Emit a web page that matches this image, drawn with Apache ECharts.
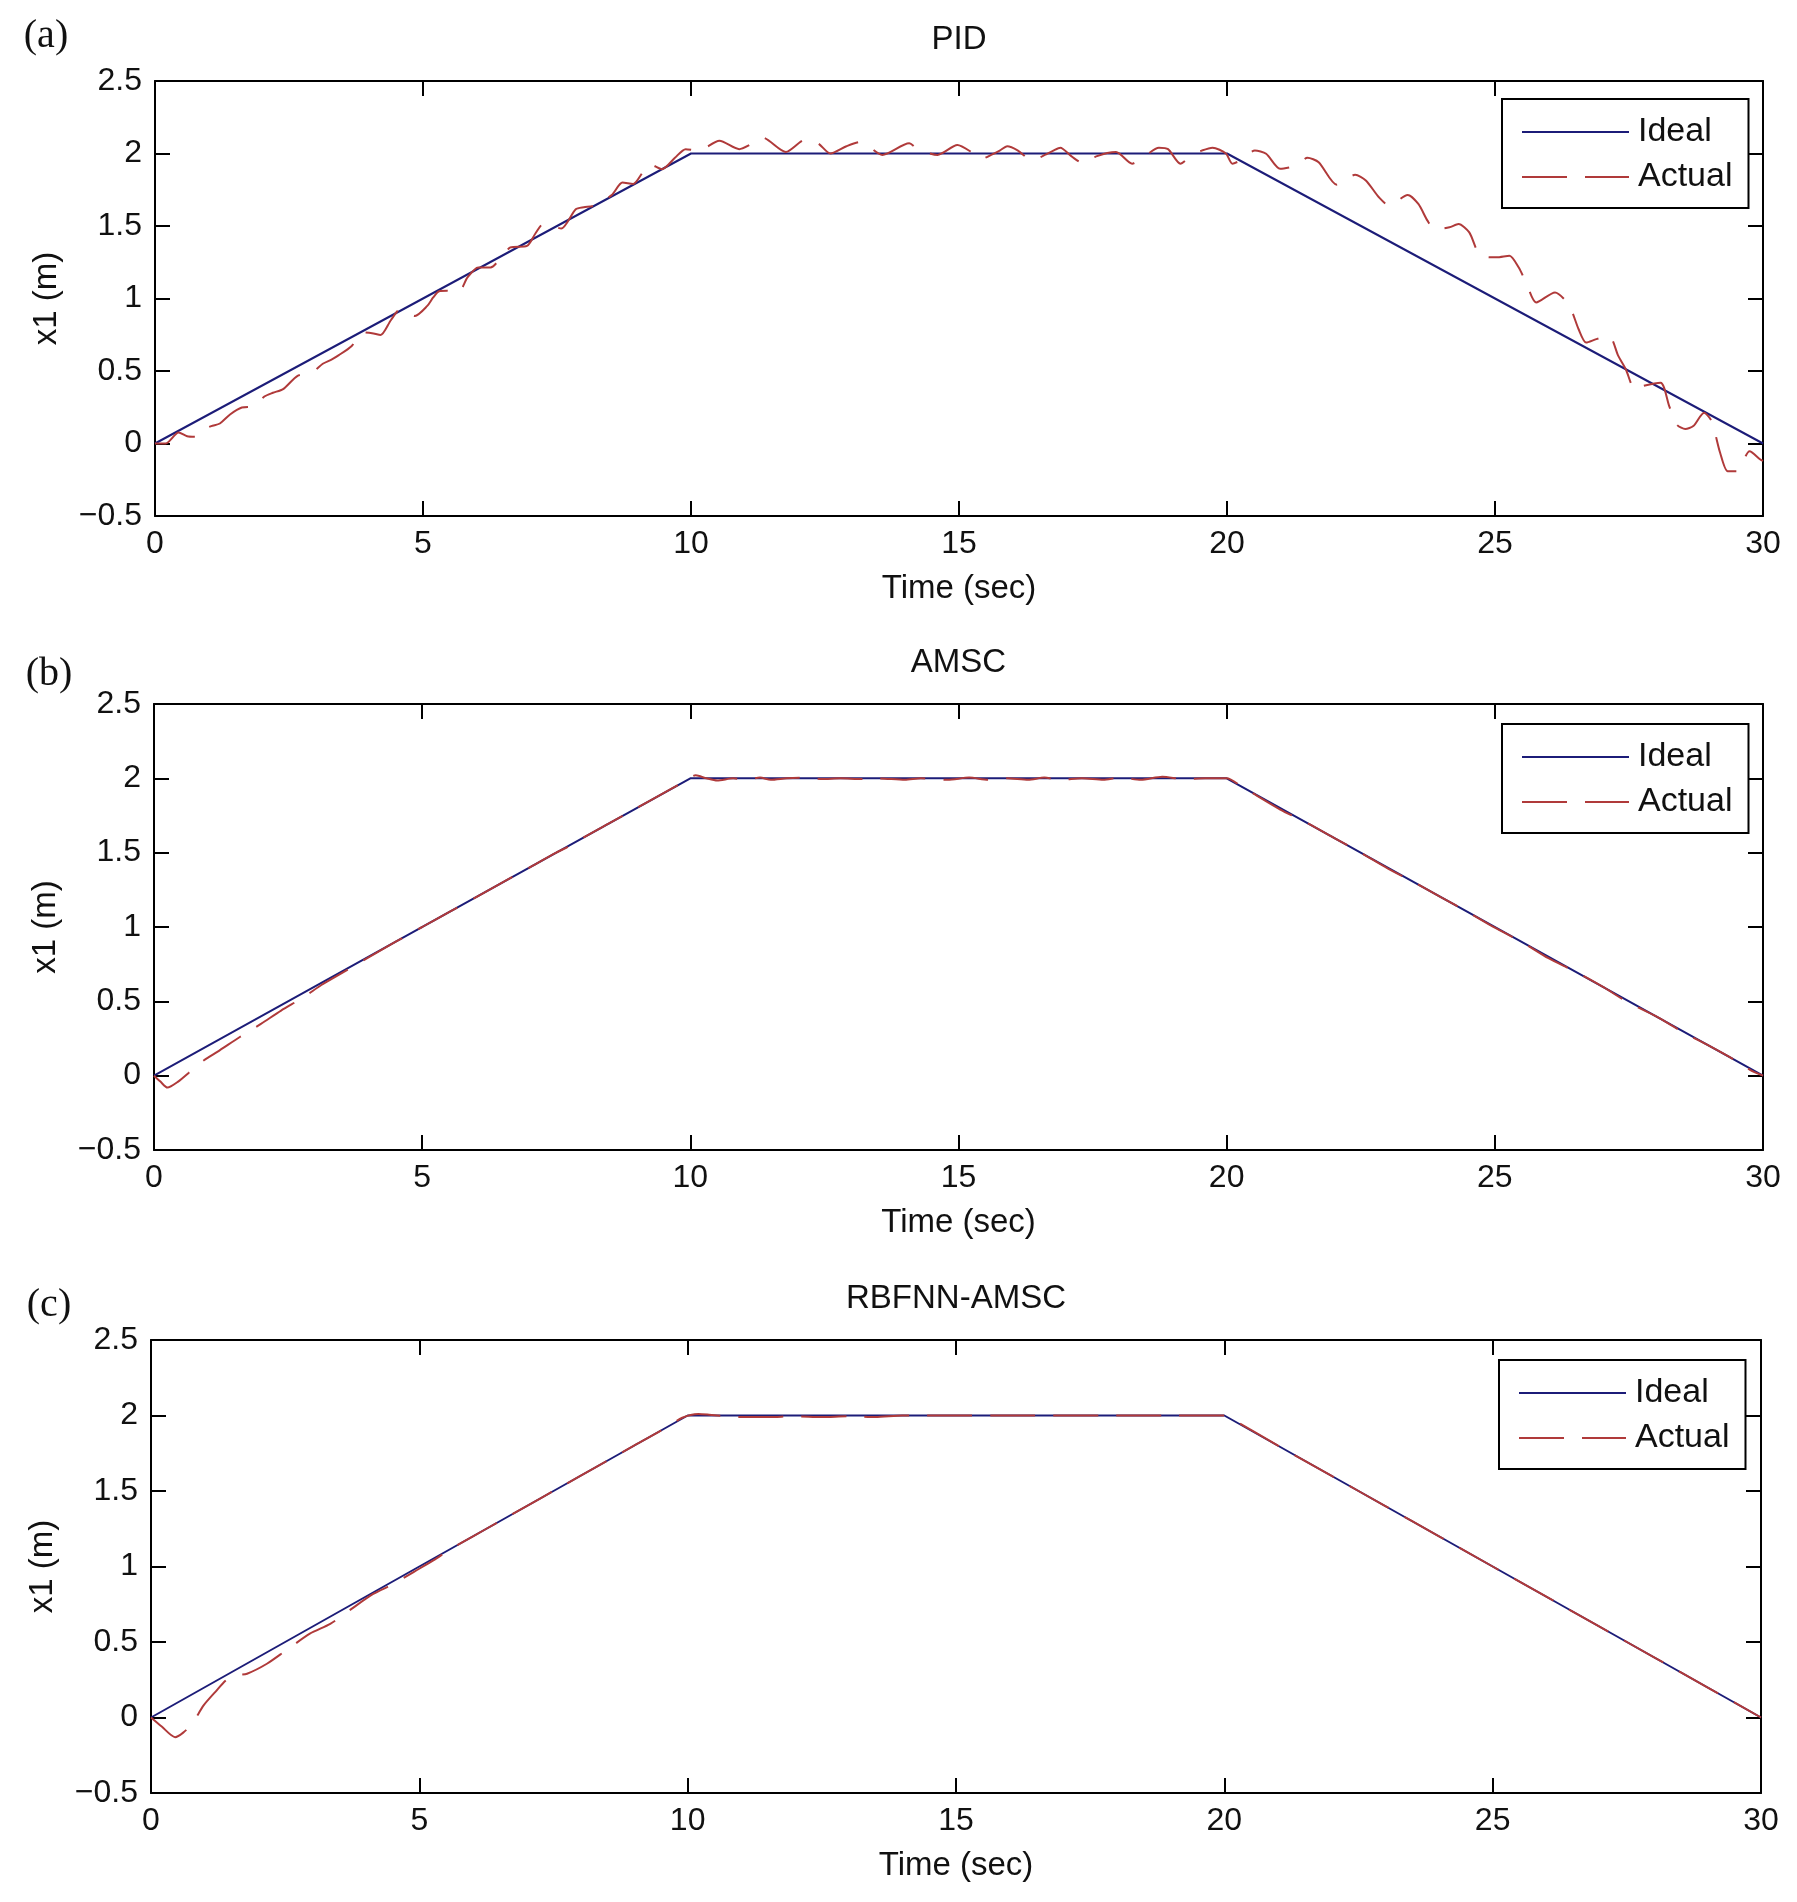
<!DOCTYPE html>
<html>
<head>
<meta charset="utf-8">
<script src="https://cdn.jsdelivr.net/npm/echarts@6/dist/echarts.min.js"></script>
<style>
  html, body { margin: 0; padding: 0; background: #fff; }
  #chart { width: 1797px; height: 1902px; }
</style>
</head>
<body>
<div id="chart"></div>
<script>
// reference trajectory (same for all three panels)
const idealT = [0, 10, 20, 30];
const idealX = [0, 2, 2, 0];

// (a) PID response
const pidT = [0, 0.2, 0.44, 0.6, 0.77, 0.86, 1.05, 1.21, 1.4, 1.62, 1.85, 2.04, 2.2, 2.39, 2.66, 2.93,
  3.13, 3.3, 3.43, 3.67, 3.87, 4.05, 4.21, 4.4, 4.58, 4.85, 5.08, 5.19, 5.3, 5.45, 5.66, 5.83,
  6.03, 6.26, 6.46, 6.63, 6.94, 7.1, 7.24, 7.4, 7.58, 7.85, 8.0, 8.18, 8.52, 8.72, 8.92, 9.1,
  9.23, 9.46, 9.7, 9.9, 10.14, 10.53, 10.9, 11.1, 11.33, 11.77, 12.13, 12.37, 12.6, 12.9, 13.17,
  13.57, 14.07, 14.23, 14.6, 14.97, 15.23, 15.4, 15.6, 15.76, 15.9, 16.1, 16.37, 16.6, 16.76,
  16.89, 17.1, 17.33, 17.56, 17.93, 18.23, 18.46, 18.73, 18.9, 19.13, 19.35, 19.53, 19.73, 19.98,
  20.1, 20.24, 20.52, 20.73, 20.99, 21.3, 21.5, 21.71, 22.05, 22.39, 22.59, 22.83, 23.03, 23.37,
  23.57, 23.74, 23.88, 24.15, 24.32, 24.52, 24.73, 25.03, 25.27, 25.44, 25.58, 25.77, 26.12,
  26.29, 26.43, 26.56, 26.7, 26.89, 27.13, 27.3, 27.44, 27.61, 27.75, 28.09, 28.25, 28.39, 28.55,
  28.7, 28.9, 29.04, 29.2, 29.34, 29.51, 29.75, 29.95, 30];
const pidX = [0, 0.0, 0.076, 0.05, 0.046, 0.087, 0.12, 0.138, 0.2, 0.248, 0.255, 0.324, 0.35, 0.375, 0.467, 0.49,
  0.55, 0.58, 0.609, 0.673, 0.766, 0.76, 0.749, 0.85, 0.926, 0.88, 0.949, 1.007, 1.05, 1.053, 1.041, 1.145,
  1.214, 1.214, 1.283, 1.352, 1.363, 1.45, 1.513, 1.5, 1.483, 1.616, 1.63, 1.639, 1.713, 1.8, 1.789, 1.87,
  1.926, 1.892, 1.97, 2.03, 2.02, 2.088, 2.03, 2.06, 2.11, 2.01, 2.094, 2.07, 2.0, 2.05, 2.08,
  1.99, 2.07, 2.03, 1.99, 2.058, 2.01, 1.96, 1.99, 2.02, 2.05, 2.02, 1.95, 1.99, 2.02,
  2.04, 1.98, 1.93, 1.98, 2.01, 1.93, 1.98, 2.04, 2.03, 1.93, 1.99, 2.02, 2.04, 2.0,
  1.93, 1.95, 2.02, 1.998, 1.895, 1.918, 1.97, 1.94, 1.784, 1.853, 1.814, 1.7, 1.64, 1.714,
  1.652, 1.537, 1.475, 1.491, 1.514, 1.456, 1.295, 1.284, 1.295, 1.215, 1.11, 0.973, 1.042,
  0.996, 0.915, 0.788, 0.696, 0.72, 0.742, 0.604, 0.512, 0.373, 0.396, 0.419, 0.258, 0.131, 0.1,
  0.12, 0.212, 0.155, -0.064, -0.191, -0.191, -0.053, -0.11, -0.12];

// (b) AMSC response
const amscT = [0, 0.12, 0.25, 0.45, 0.65, 0.82, 1.0, 1.18, 1.6, 2.0, 2.37, 2.8, 3.12, 3.5, 4.0, 4.5,
  5.0, 5.5, 6.0, 6.5, 7.0, 7.5, 7.8, 8.0, 8.5, 9.0, 9.5, 9.8, 10.1, 10.3, 10.5, 10.8, 11.05, 11.3,
  11.5, 11.8, 12.2, 12.45, 12.8, 13.2, 13.5, 14.0, 14.3, 14.8, 15.2, 15.55, 15.9, 16.3, 16.6, 16.9,
  17.3, 17.7, 18.0, 18.4, 18.8, 19.2, 19.6, 20.0, 20.3, 21.0, 21.5, 22.0, 22.5, 23.0, 23.5, 24.0,
  24.5, 25.0, 25.5, 26.0, 26.5, 27.0, 27.5, 28.0, 28.5, 29.0, 29.5, 29.8, 30];
const amscX = [0, -0.04, -0.08, -0.04, 0.02, 0.074, 0.12, 0.16, 0.26, 0.35, 0.438, 0.53, 0.61, 0.69, 0.795, 0.9,
  1.0, 1.1, 1.2, 1.3, 1.4, 1.5, 1.555, 1.6, 1.7, 1.8, 1.9, 1.96, 2.02, 2.0, 1.985, 2.0, 1.99, 2.005,
  1.99, 2.0, 2.005, 1.995, 2.0, 1.995, 2.0, 1.99, 2.0, 1.99, 2.005, 1.99, 2.0, 1.99, 2.005, 1.99,
  2.0, 1.99, 2.005, 1.99, 2.01, 1.995, 2.0, 2.0, 1.94, 1.79, 1.7, 1.6, 1.5, 1.395, 1.3, 1.2,
  1.1, 0.995, 0.9, 0.79, 0.7, 0.6, 0.49, 0.4, 0.295, 0.2, 0.1, 0.03, 0.0];

// (c) RBFNN-AMSC response
const rbfT = [0, 0.2, 0.45, 0.6, 0.77, 0.98, 1.2, 1.41, 1.6, 1.79, 2.16, 2.5, 2.96, 3.34, 3.7, 4.14,
  4.51, 4.9, 5.26, 5.6, 6.0, 6.5, 7.0, 7.5, 8.0, 8.5, 9.0, 9.5, 9.9, 10.2, 10.4, 10.7, 11.0, 11.5,
  12.0, 12.5, 13.0, 13.5, 14.0, 15, 16, 17, 18, 19, 20, 20.2, 21, 22, 23, 24, 25, 26, 27, 28, 29, 30];
const rbfX = [0, -0.06, -0.13, -0.1, -0.04, 0.08, 0.17, 0.25, 0.28, 0.29, 0.356, 0.44, 0.555, 0.62, 0.71, 0.818,
  0.883, 0.965, 1.04, 1.12, 1.2, 1.3, 1.4, 1.5, 1.6, 1.7, 1.8, 1.9, 1.985, 2.01, 2.005, 1.995, 1.99, 1.99,
  1.995, 1.99, 1.995, 1.99, 2.0, 2.0, 2.0, 2.0, 2.0, 2.0, 2.0, 1.965, 1.8, 1.6, 1.4, 1.2, 1.0, 0.8, 0.6, 0.4, 0.2, 0.0];

const panelTitles = ['PID', 'AMSC', 'RBFNN-AMSC'];
const panelTags = ['(a)', '(b)', '(c)'];
const actualT = [pidT, amscT, rbfT];
const actualX = [pidX, amscX, rbfX];

const FONT = '"Liberation Sans", Arial, Helvetica, sans-serif';
const IDEAL_COLOR = '#1c1c78';
const ACTUAL_COLOR = '#b03a3a';
const DASH = [45, 18];

// panel boxes in px: [left, top, right edge, bottom edge]
const boxes = [
  [155, 81, 1763, 516],
  [154, 704, 1763, 1150],
  [151, 1340, 1761, 1793]
];
const legendPos = [[1502, 99], [1502, 724], [1499, 1360]];
const tagPos = [[46, 36], [49, 674], [49, 1305]];

const pairs = (ts, xs) => ts.map((t, i) => [t, xs[i]]);
const minusFix = v => String(v).replace('-', '\u2212');

const tickStyle = { inside: true, length: 15, lineStyle: { color: '#000', width: 2 } };
const axisLineStyle = { show: true, onZero: false, lineStyle: { color: '#000', width: 2 } };

const grid = [], xAxis = [], yAxis = [], series = [], legend = [], graphic = [];

boxes.forEach((b, i) => {
  grid.push({ left: b[0], top: b[1], width: b[2] - b[0], height: b[3] - b[1], containLabel: false });

  xAxis.push({
    type: 'value', gridIndex: i, position: 'bottom', min: 0, max: 30, interval: 5,
    axisLine: axisLineStyle, axisTick: tickStyle, splitLine: { show: false },
    axisLabel: { fontSize: 32, color: '#111', margin: 12, fontFamily: FONT },
    name: 'Time (sec)', nameLocation: 'middle', nameGap: 56,
    nameTextStyle: { fontSize: 33, color: '#111', fontFamily: FONT }
  });
  xAxis.push({
    type: 'value', gridIndex: i, position: 'top', min: 0, max: 30, interval: 5,
    axisLine: axisLineStyle, axisTick: tickStyle, splitLine: { show: false },
    axisLabel: { show: false }
  });
  yAxis.push({
    type: 'value', gridIndex: i, position: 'left', min: -0.5, max: 2.5, interval: 0.5,
    axisLine: axisLineStyle, axisTick: tickStyle, splitLine: { show: false },
    axisLabel: { fontSize: 32, color: '#111', margin: 13, fontFamily: FONT, formatter: minusFix },
    name: 'x1 (m)', nameLocation: 'middle', nameGap: 92,
    nameTextStyle: { fontSize: 33, color: '#111', fontFamily: FONT }
  });
  yAxis.push({
    type: 'value', gridIndex: i, position: 'right', min: -0.5, max: 2.5, interval: 0.5,
    axisLine: axisLineStyle, axisTick: tickStyle, splitLine: { show: false },
    axisLabel: { show: false }
  });

  series.push({
    name: 'Ideal', type: 'line', xAxisIndex: i * 2, yAxisIndex: i * 2,
    data: pairs(idealT, idealX), symbol: 'none',
    lineStyle: { color: IDEAL_COLOR, width: 2 }, itemStyle: { color: IDEAL_COLOR }, z: 2
  });
  series.push({
    name: 'Actual', type: 'line', xAxisIndex: i * 2, yAxisIndex: i * 2,
    data: pairs(actualT[i], actualX[i]), symbol: 'none', smooth: 0.25,
    lineStyle: { color: ACTUAL_COLOR, width: 2, type: DASH }, itemStyle: { color: ACTUAL_COLOR }, z: 3
  });

  legend.push({
    left: legendPos[i][0], top: legendPos[i][1], orient: 'vertical',
    data: [
      { name: 'Ideal', lineStyle: { color: IDEAL_COLOR, width: 2, type: 'solid' } },
      { name: 'Actual', lineStyle: { color: ACTUAL_COLOR, width: 2, type: DASH } }
    ],
    selectedMode: false,
    itemWidth: 107, itemHeight: 14, itemGap: 11,
    itemStyle: { opacity: 0 },
    padding: [16, 16, 14, 19],
    borderColor: '#000', borderWidth: 2, backgroundColor: '#fff',
    textStyle: { fontSize: 34, lineHeight: 34, color: '#111', fontFamily: FONT, padding: [0, 0, 0, 4] }
  });

  graphic.push({
    type: 'text', x: (b[0] + b[2]) / 2, y: b[1] - 41,
    style: { text: panelTitles[i], fontSize: 33, fontFamily: FONT, fill: '#111', align: 'center', verticalAlign: 'middle' }
  });
  graphic.push({
    type: 'text', x: tagPos[i][0], y: tagPos[i][1],
    style: { text: panelTags[i], fontSize: 40, fontFamily: '"Liberation Serif", "Times New Roman", serif', fill: '#111', align: 'center', verticalAlign: 'middle' }
  });
});

const chart = echarts.init(document.getElementById('chart'));
chart.setOption({
  backgroundColor: '#fff',
  animation: false,
  grid, xAxis, yAxis, series, legend, graphic
});
</script>
</body>
</html>
